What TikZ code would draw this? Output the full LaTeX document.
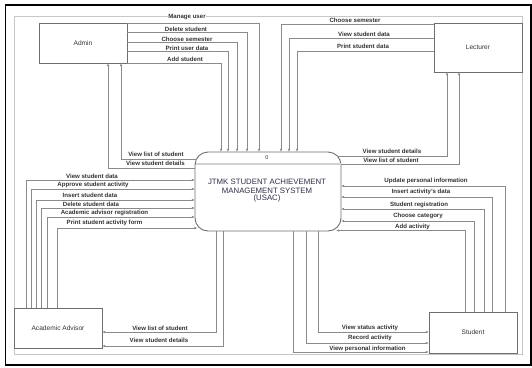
\documentclass[tikz,border=0pt]{standalone}
\usepackage{fontspec}
\setmainfont{Liberation Sans}
\usetikzlibrary{arrows.meta,calc}
\definecolor{boxc}{HTML}{6E6E6E}
\definecolor{linec}{HTML}{8A8A8A}
\definecolor{txt}{HTML}{333333}
\definecolor{ptxt}{HTML}{2E2E48}
\begin{document}
\begin{tikzpicture}[x=1pt,y=-1pt,
  ent/.style={draw=boxc,line width=0.9pt,fill=white,inner sep=0pt,outer sep=0pt,
    font=\fontsize{6.6}{8}\selectfont,text=txt},
  procbox/.style={draw=boxc,line width=0.9pt,fill=white,rounded corners=13pt,
    inner sep=0pt,outer sep=0pt,minimum width=146pt,minimum height=79pt},
  flow/.style={draw=linec,line width=0.8pt,-{Latex[length=3.2pt,width=2.6pt]}},
  lbl/.style={font=\fontsize{6.1}{7}\selectfont\bfseries,text=txt,fill=white,inner sep=0.4pt}]

\useasboundingbox (0,0) rectangle (532,367);
\draw[black,line width=1.3pt] (5.7,5) rectangle (531,365);
\draw[black!22,line width=0.7pt] (14,16) rectangle (522.5,354.5);

% entities
\node[ent,minimum width=88pt,minimum height=40pt] (admin) at (83,43) {Admin};
\node[ent,minimum width=88pt,minimum height=49pt] (lecturer) at (478,47.5) {Lecturer};
\node[ent,minimum width=88pt,minimum height=40pt] (advisor) at (58,328) {Academic Advisor};
\node[ent,minimum width=88pt,minimum height=41pt] (student) at (473,332.5) {Student};

% process
\node[procbox] (proc) at (268,191.5) {};
\draw[black!18,line width=1.2pt] ($(proc.north west)+(0.5,12)$) -- ($(proc.north east)+(-0.5,12)$);
\node[font=\fontsize{5.5}{6}\selectfont,text=ptxt] (pnum) at (267,157.5) {0};
\node[font=\fontsize{7.8}{8.4}\selectfont,text=ptxt,align=center] (ptitle) at (267,190.5)
  {JTMK STUDENT ACHIEVEMENT\\MANAGEMENT SYSTEM\\[-1.6pt](USAC)};

% Admin -> process
\draw[flow] (admin.north east) -| (259,0 |- proc.north);
\draw[flow] (admin.east |- 0,32.7) -| (247,0 |- proc.north);
\draw[flow] (admin.east |- 0,42.7) -| (237,0 |- proc.north);
\draw[flow] (admin.east |- 0,51.7) -| (228,0 |- proc.north);
\draw[flow] (admin.south east) -| (221,0 |- proc.north);

% Lecturer -> process
\draw[flow] (lecturer.west |- 0,24) -| (281,0 |- proc.north);
\draw[flow] (lecturer.west |- 0,38) -| (289,0 |- proc.north);
\draw[flow] (lecturer.west |- 0,51) -| (297,0 |- proc.north);

% process -> Lecturer
\draw[flow] ($(proc.north east)+(-3.8,4)$) -| (447,0 |- lecturer.south);
\draw[flow] (proc.east |- 0,164) -| (459,0 |- lecturer.south);

% process -> Admin
\draw[flow] ($(proc.north west)+(2,7)$) -| (121,0 |- admin.south);
\draw[flow] (proc.west |- 0,168) -| (108,0 |- admin.south);

% Advisor -> process
\draw[flow] (26,0 |- advisor.north) |- (proc.west |- 0,180);
\draw[flow] (31,0 |- advisor.north) |- (proc.west |- 0,189);
\draw[flow] (36,0 |- advisor.north) |- (proc.west |- 0,200);
\draw[flow] (41,0 |- advisor.north) |- (proc.west |- 0,208);
\draw[flow] (47,0 |- advisor.north) |- (proc.west |- 0,217);
\draw[flow] (57,0 |- advisor.north) |- ($(proc.south west)+(2.5,-3)$);

% process -> Advisor
\draw[flow] (216,0 |- proc.south) |- (advisor.east |- 0,332);
\draw[flow] (223,0 |- proc.south) |- (advisor.east |- 0,346);

% Student -> process
\draw[flow] (505,0 |- student.north) |- (proc.east |- 0,186);
\draw[flow] (492,0 |- student.north) |- (proc.east |- 0,197);
\draw[flow] (484,0 |- student.north) |- (proc.east |- 0,209);
\draw[flow] (474,0 |- student.north) |- (proc.east |- 0,221);
\draw[flow] (465,0 |- student.north) |- ($(proc.south east)+(-5,-0.5)$);

% process -> Student
\draw[flow] (318,0 |- proc.south) |- (student.west |- 0,332);
\draw[flow] (306,0 |- proc.south) |- (student.west |- 0,343);
\draw[flow] (293,0 |- proc.south) |- (student.west |- 0,352);

% labels
\node[lbl] (l1) at (187,17) {Manage user};
\node[lbl] (l2) at (186,29) {Delete student};
\node[lbl] (l3) at (187,39) {Choose semester};
\node[lbl] (l4) at (187,48) {Print user data};
\node[lbl] (l5) at (185,59) {Add student};

\node[lbl] (l6) at (355,20) {Choose semester};
\node[lbl] (l7) at (364,34) {View student data};
\node[lbl] (l8) at (363,46) {Print student data};

\node[lbl] (l9) at (392,151) {View student details};
\node[lbl] (l10) at (391,160.5) {View list of student};

\node[lbl] (l11) at (156,154) {View list of student};
\node[lbl] (l12) at (155.5,163) {View student details};

\node[lbl] (l13) at (92,176) {View student data};
\node[lbl] (l14) at (93,185) {Approve student activity};
\node[lbl] (l15) at (90,195) {Insert student data};
\node[lbl] (l16) at (91,204) {Delete student data};
\node[lbl] (l17) at (104.5,213) {Academic advisor registration};
\node[lbl] (l18) at (104.5,223) {Print student activity form};

\node[lbl] (l19) at (160,328) {View list of student};
\node[lbl] (l20) at (159,340) {View student details};

\node[lbl] (l21) at (426,181) {Update personal information};
\node[lbl] (l22) at (421,192) {Insert activity's data};
\node[lbl] (l23) at (419,205) {Student registration};
\node[lbl] (l24) at (418,216) {Choose category};
\node[lbl] (l25) at (412.5,227) {Add activity};

\node[lbl] (l26) at (370,328) {View status activity};
\node[lbl] (l27) at (370,338) {Record activity};
\node[lbl] (l28) at (367.5,349) {View personal information};
\end{tikzpicture}
\end{document}
